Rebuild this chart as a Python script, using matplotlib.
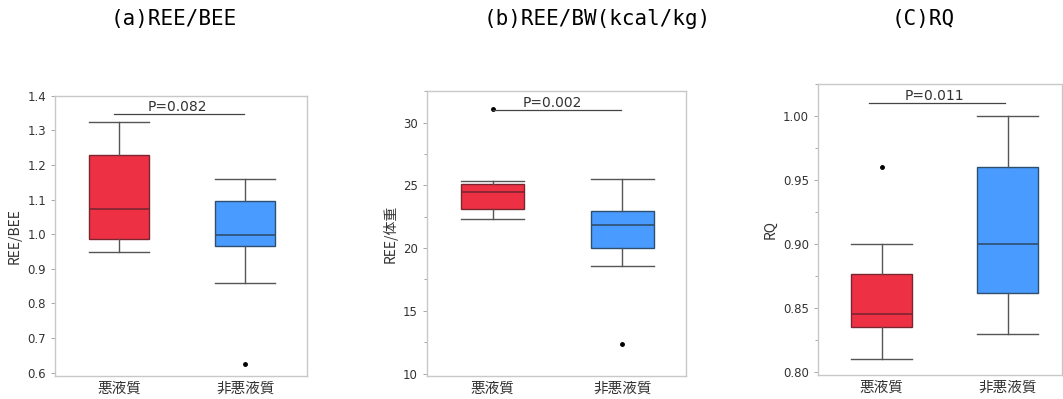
import matplotlib
matplotlib.use("Agg")
import matplotlib.pyplot as plt
from matplotlib.ticker import MultipleLocator

# categories
groups = ["悪液質", "非悪液質"]

# (a) REE/BEE : whislo, q1, median, q3, whishi
a_low = [0.95, 0.86]
a_q1 = [0.985, 0.967]
a_med = [1.072, 0.997]
a_q3 = [1.23, 1.095]
a_high = [1.325, 1.16]
a_fliers = [[], [0.625]]

# (b) REE/BW
b_low = [22.3, 18.6]
b_q1 = [23.1, 20.0]
b_med = [24.5, 21.8]
b_q3 = [25.1, 22.95]
b_high = [25.35, 25.5]
b_fliers = [[31.1], [12.35]]

# (c) RQ
c_low = [0.81, 0.83]
c_q1 = [0.835, 0.862]
c_med = [0.845, 0.90]
c_q3 = [0.877, 0.96]
c_high = [0.90, 1.00]
c_fliers = [[0.96], []]

titles = ["(a)REE/BEE", "(b)REE/BW(kcal/kg)", "(C)RQ"]
ylabels = ["REE/BEE", "REE/体重", "RQ"]
pvals = ["P=0.082", "P=0.002", "P=0.011"]
p_y = [1.348, 31.0, 1.0105]
p_x = [(0.96, 1.99), (1.0, 1.99), (0.9, 1.98)]
p_tx = [1.46, 1.46, 1.42]

colors = ["#ee3045", "#4a9bff"]
edges = ["#7a2630", "#2f4f6f"]

fig = plt.figure(figsize=(10.63, 3.99), dpi=100)
axes = [fig.add_axes([0.0517, 0.0576, 0.237, 0.702]),
        fig.add_axes([0.4017, 0.0576, 0.2437, 0.714]),
        fig.add_axes([0.7695, 0.0602, 0.2295, 0.729])]

panels = [
    (a_low, a_q1, a_med, a_q3, a_high, a_fliers),
    (b_low, b_q1, b_med, b_q3, b_high, b_fliers),
    (c_low, c_q1, c_med, c_q3, c_high, c_fliers),
]
ylims = [(0.59, 1.4), (9.8, 32.5), (0.7977, 1.025)]
xlims = [(0.49, 2.49), (0.495, 2.49), (0.495, 2.43)]
majors = [0.1, 5, 0.05]
minors = [None, 2.5, 0.025]
fmts = ["{:.1f}", "{:.0f}", "{:.2f}"]
title_x = [174, 597, 923]

for i, ax in enumerate(axes):
    lo, q1, med, q3, hi, fl = panels[i]
    stats = []
    for k in range(2):
        stats.append(dict(whislo=lo[k], q1=q1[k], med=med[k], q3=q3[k],
                          whishi=hi[k], fliers=fl[k]))
    bp = ax.bxp(stats, positions=[1, 2], widths=0.48, capwidths=0.48,
                patch_artist=True, showfliers=True,
                whiskerprops=dict(color="#555555", lw=1),
                capprops=dict(color="#555555", lw=1),
                flierprops=dict(marker="o", markersize=2.5,
                                markerfacecolor="black",
                                markeredgecolor="black"))
    for k in range(2):
        bp["boxes"][k].set_facecolor(colors[k])
        bp["boxes"][k].set_edgecolor(edges[k])
        bp["boxes"][k].set_linewidth(1)
        bp["medians"][k].set_color(edges[k])
        bp["medians"][k].set_linewidth(1.2)

    ax.plot(p_x[i], [p_y[i], p_y[i]], color="#444444", lw=0.9)
    ax.text(p_tx[i], p_y[i], pvals[i], ha="center", va="bottom",
            fontsize=10, color="#333333")

    ax.set_xlim(*xlims[i])
    ax.set_ylim(*ylims[i])
    ax.yaxis.set_major_locator(MultipleLocator(majors[i]))
    if minors[i]:
        ax.yaxis.set_minor_locator(MultipleLocator(minors[i]))
    ax.set_yticklabels([fmts[i].format(v) for v in ax.get_yticks()])
    ax.set_ylim(*ylims[i])
    ax.set_xticks([1, 2])
    ax.set_xticklabels(groups, family=["Noto Sans CJK JP", "DejaVu Sans"],
                       fontsize=10.5, color="#333333")
    ax.tick_params(axis="x", length=0, pad=4)
    ax.tick_params(axis="y", which="both", colors="#999999",
                   labelcolor="#333333", labelsize=8.5, length=3, width=0.6)
    ax.tick_params(axis="y", which="minor", length=2)
    for s in ax.spines.values():
        s.set_color("#c8c8c8")
        s.set_linewidth(1)
    ax.set_ylabel(ylabels[i], family=["Noto Sans CJK JP", "DejaVu Sans"],
                  fontsize=10, color="#333333")

    fig.text(title_x[i] / 1063, 1 - 19 / 399, titles[i], ha="center",
             va="center", fontsize=15, family="DejaVu Sans Mono",
             color="black")

fig.savefig("out.png", dpi=100)
